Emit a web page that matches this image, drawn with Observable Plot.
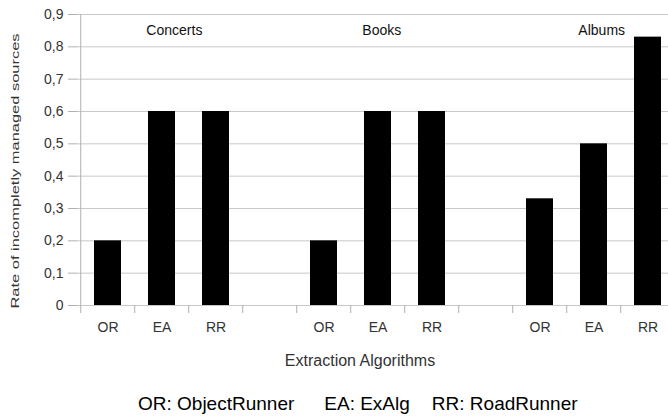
<!DOCTYPE html>
<html>
<head>
<meta charset="utf-8">
<script src="https://cdn.jsdelivr.net/npm/d3@7"></script>
<script src="https://cdn.jsdelivr.net/npm/@observablehq/plot@0.6"></script>
<style>
  html, body { margin: 0; padding: 0; overflow: hidden; background: white; }
  #wrap { position: relative; width: 668px; height: 417px; }
  #legend { position: absolute; left: 138px; top: 393px; font-family: "Liberation Sans", Arial, sans-serif; font-size: 19px; line-height: 21px; color: #000; white-space: pre; }
  #legend span { display: inline-block; }
</style>
</head>
<body>
<div id="wrap"><div id="chart"></div><div id="legend"></div></div>
<script>
const groups = ["Concerts", "Books", "Albums"];
const algorithms = ["OR", "EA", "RR"];
const concerts = [0.2, 0.6, 0.6];
const books = [0.2, 0.6, 0.6];
const albums = [0.33, 0.5, 0.83];
const yTicks = [0, 0.1, 0.2, 0.3, 0.4, 0.5, 0.6, 0.7, 0.8, 0.9];
const legendItems = ["OR: ObjectRunner", "EA: ExAlg", "RR: RoadRunner"];
const xTitle = "Extraction Algorithms";
const yTitle = "Rate of incompletly managed sources";

const seriesByGroup = [concerts, books, albums];
const rows = [];
const domain = [];
groups.forEach((g, gi) => {
  algorithms.forEach((a, ai) => {
    const key = g + "-" + a;
    domain.push(key);
    rows.push({group: g, algo: a, key, value: seriesByGroup[gi][ai]});
  });
  if (gi < groups.length - 1) domain.push("gap-" + gi);
});
const labelOf = k => k.startsWith("gap-") ? "" : k.split("-")[1];
const step = 600 / domain.length;

const fmt = d => d === 0 ? "0" : d.toFixed(1).replace(".", ",");

const chart = Plot.plot({
  width: 668,
  height: 385,
  marginLeft: 77,
  marginRight: 0,
  marginTop: 14,
  marginBottom: 80,
  style: {fontFamily: "'Liberation Sans', Arial, sans-serif", fontSize: "14px", background: "white", color: "#000"},
  x: {type: "band", domain, range: [77, 677], paddingInner: 0.5, paddingOuter: 0.25, axis: null},
  y: {domain: [0, 0.9], axis: null},
  marks: [
    Plot.ruleY(yTicks, {y: d => d, stroke: "#c8c8c8", strokeWidth: 1}),
    Plot.barY(rows, {x: "key", y: "value", fill: "#000"}),
    Plot.ruleX(domain, {x: d => d, y1: -0.025, y2: (d, i) => i === 0 ? 0.9 : 0, dx: -step / 2, stroke: "#b0b0b0"}),
    Plot.axisY({ticks: yTicks, tickSize: 9, tickPadding: 5, tickFormat: fmt, stroke: "#b0b0b0", fill: "#333", fontSize: 14, label: null}),
    Plot.axisX({tickSize: 0, tickPadding: 17, tickFormat: labelOf, fill: "#333", fontSize: 14, label: null}),
    Plot.text(groups, {x: g => g + "-EA", frameAnchor: "top", lineAnchor: "middle", dy: 16, dx: -step / 4 - 2, textAnchor: "start", fontSize: 14, fill: "#111", text: d => d}),
    Plot.text([xTitle], {frameAnchor: "bottom", dx: -13, dy: 60, fontSize: 16, fill: "#333", text: d => d}),
    Plot.text([yTitle], {frameAnchor: "left", rotate: -90, textAnchor: "start", lineAnchor: "middle", fontSize: 11.5, fill: "#333", text: d => d})
  ]
});
document.getElementById("chart").appendChild(chart);

d3.select(chart).selectAll("text").filter(function() { return this.textContent === yTitle; })
  .attr("transform", "translate(14.5,308) rotate(-90)")
  .attr("textLength", 275).attr("lengthAdjust", "spacingAndGlyphs");

const legend = d3.select("#legend");
legendItems.forEach((t, i) => {
  legend.append("span").style("margin-left", i === 0 ? "0px" : (i === 1 ? "30px" : "22px")).text(t);
});
</script>
</body>
</html>
